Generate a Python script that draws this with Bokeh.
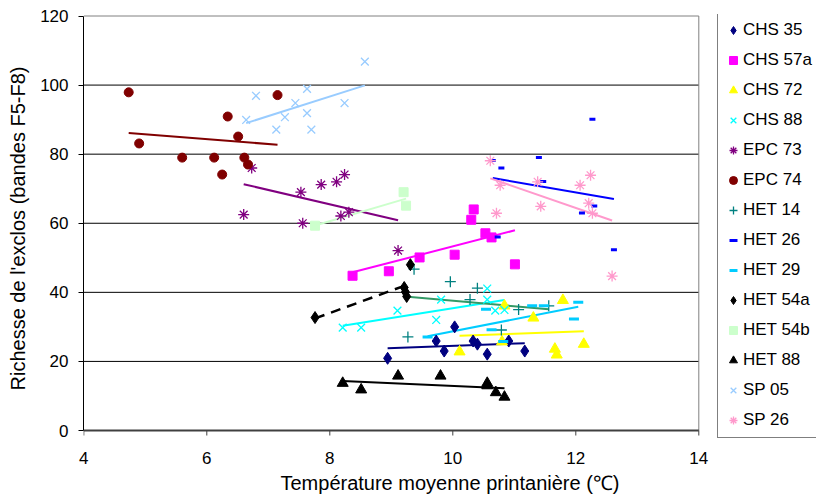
import numpy as np
from bokeh.plotting import figure
from bokeh.models import Legend, LegendItem, FixedTicker, Range1d
from bokeh.embed import file_html
from bokeh.resources import INLINE

# ---------------- data ----------------
series_names = ["CHS 35", "CHS 57a", "CHS 72", "CHS 88", "EPC 73", "EPC 74", "HET 14",
                "HET 26", "HET 29", "HET 54a", "HET 54b", "HET 88", "SP 05", "SP 26"]

chs35_x = [8.94, 9.73, 9.86, 10.03, 10.33, 10.40, 10.56, 10.91, 11.17]
chs35_y = [20.9, 25.9, 23.0, 30.0, 25.9, 25.0, 22.1, 25.9, 23.0]

chs57a_x = [8.37, 8.96, 9.46, 10.03, 10.30, 10.34, 10.53, 10.63, 11.01]
chs57a_y = [44.8, 46.1, 50.1, 50.9, 61.0, 64.0, 57.1, 55.9, 48.1]

chs72_x = [10.11, 10.80, 10.84, 11.31, 11.79, 11.66, 11.69, 12.13]
chs72_y = [22.8, 25.7, 36.1, 32.6, 37.7, 23.6, 21.9, 25.0]

chs88_x = [8.21, 8.51, 9.10, 9.81, 9.73, 10.56, 10.56, 10.69, 10.84]
chs88_y = [29.8, 29.8, 34.7, 37.9, 32.0, 41.1, 37.9, 34.7, 34.9]

epc73_x = [6.60, 6.73, 7.53, 7.86, 8.11, 8.24, 7.56, 8.18, 8.31, 9.11]
epc73_y = [62.5, 76.0, 69.0, 71.2, 72.0, 74.1, 60.0, 62.1, 63.2, 52.1]

epc74_x = [4.73, 4.90, 5.60, 6.12, 6.25, 6.34, 6.51, 6.61, 6.67, 7.15]
epc74_y = [97.9, 83.1, 79.0, 79.0, 74.1, 90.9, 85.1, 79.0, 77.0, 97.1]

het14_x = [9.37, 9.96, 10.40, 10.28, 11.07, 11.56, 9.27, 10.79]
het14_y = [46.7, 43.1, 41.2, 37.9, 35.0, 36.1, 27.1, 29.1]

het26_x = [12.27, 11.40, 10.65, 10.79, 11.47, 12.30, 12.10, 10.73, 12.62]
het26_y = [90.1, 79.0, 78.2, 76.0, 72.1, 65.0, 63.0, 56.0, 52.3]

het29_x = [10.54, 11.29, 11.48, 12.04, 11.97, 10.63, 10.82, 9.59]
het29_y = [35.1, 36.1, 36.1, 37.1, 32.3, 29.2, 25.8, 27.1]

het54a_x = [7.76, 9.21, 9.23, 9.25, 9.31]
het54a_y = [32.7, 41.4, 40.1, 38.8, 48.0]

het54b_x = [7.76, 9.20, 9.24]
het54b_y = [59.3, 69.0, 65.1]

het88_x = [8.21, 8.51, 9.11, 9.80, 10.56, 10.56, 10.70, 10.84]
het88_y = [13.7, 11.8, 15.8, 15.8, 13.7, 13.0, 11.0, 9.7]

sp05_x = [6.64, 6.80, 7.13, 7.27, 7.44, 7.63, 7.63, 7.70, 8.24, 8.57]
sp05_y = [89.9, 96.9, 87.1, 90.7, 94.8, 98.9, 91.9, 87.1, 94.8, 106.8]

sp26_x = [10.61, 10.77, 10.71, 11.38, 11.43, 12.07, 12.24, 12.21, 12.27, 12.59]
sp26_y = [78.1, 71.0, 62.9, 72.0, 64.9, 71.0, 73.9, 65.8, 62.9, 44.7]

x_ticks = [4, 6, 8, 10, 12, 14]
y_ticks = [0, 20, 40, 60, 80, 100, 120]
grid_ticks = [20, 40, 60, 80, 100]
x_min, x_max = 4, 14
y_min, y_max = 0, 120

xs_all = [chs35_x, chs57a_x, chs72_x, chs88_x, epc73_x, epc74_x, het14_x,
          het26_x, het29_x, het54a_x, het54b_x, het88_x, sp05_x, sp26_x]
ys_all = [chs35_y, chs57a_y, chs72_y, chs88_y, epc73_y, epc74_y, het14_y,
          het26_y, het29_y, het54a_y, het54b_y, het88_y, sp05_y, sp26_y]

# ---------------- styles ----------------
styles = {
    "CHS 35":  dict(marker="diamond", color="#000080", size=12, line="#000080"),
    "CHS 57a": dict(marker="square", color="#FF00FF", size=9, line="#FF00FF"),
    "CHS 72":  dict(marker="triangle", color="#FFFF00", size=11, line="#FFFF00"),
    "CHS 88":  dict(marker="x", color="#00FFFF", size=11, line="#00FFFF"),
    "EPC 73":  dict(marker="asterisk", color="#800080", size=11, line="#800080"),
    "EPC 74":  dict(marker="circle", color="#800000", size=9, line="#800000"),
    "HET 14":  dict(marker="cross", color="#008080", size=11, line="#339966"),
    "HET 26":  dict(marker="dash", color="#0000FF", size=6, line="#0000FF"),
    "HET 29":  dict(marker="dash", color="#00CCFF", size=10, line="#00CCFF"),
    "HET 54a": dict(marker="diamond", color="#000000", size=12, line="#000000"),
    "HET 54b": dict(marker="square", color="#CCFFCC", size=9, line="#CCFFCC"),
    "HET 88":  dict(marker="triangle", color="#000000", size=11, line="#000000"),
    "SP 05":   dict(marker="x", color="#99CCFF", size=11, line="#99CCFF"),
    "SP 26":   dict(marker="asterisk", color="#FF99CC", size=11, line="#FF99CC"),
}

FONT = "Liberation Sans"

# ---------------- layout (pixels) ----------------
W, H = 816, 500
LEFT, TOP, BOTTOM = 83, 14, 442          # frame edges on the canvas
AX_LEFT_PX, AX_RIGHT_PX = 83.3, 698.3    # where x=4 and x=14 fall
Y0_PX, Y120_PX = 430.0, 15.5             # where y=0 and y=120 fall
TICK_PX = 5
px_x = (AX_RIGHT_PX - AX_LEFT_PX) / (x_max - x_min)
px_y = (Y0_PX - Y120_PX) / (y_max - y_min)
xr = Range1d(x_min - (AX_LEFT_PX - LEFT) / px_x, x_max + (W - AX_RIGHT_PX) / px_x)
yr = Range1d(y_min - (BOTTOM - Y0_PX) / px_y, y_max + (Y120_PX - TOP) / px_y)

p = figure(width=W, height=H, x_range=xr, y_range=yr,
           output_backend="svg", toolbar_location=None,
           min_border_left=LEFT, min_border_right=0, min_border_top=TOP,
           min_border_bottom=H - BOTTOM)

p.background_fill_color = "white"
p.border_fill_color = "white"
p.outline_line_color = None
p.grid.visible = False

# grid lines and plot-area border limited to the axes' extent
p.segment(x0=[x_min] * len(grid_ticks), x1=[x_max] * len(grid_ticks),
          y0=grid_ticks, y1=grid_ticks, line_color="black", line_width=1)
p.segment(x0=[x_min], x1=[x_max], y0=[y_max], y1=[y_max], line_color="#808080", line_width=1)
p.segment(x0=[x_max], x1=[x_max], y0=[y_min], y1=[y_max], line_color="#808080", line_width=1)

# x axis line and its tick marks at y = 0
p.segment(x0=x_ticks, x1=x_ticks, y0=[y_min] * len(x_ticks),
          y1=[y_min - TICK_PX / px_y] * len(x_ticks), line_color="#404040", line_width=1)
p.segment(x0=[x_min], x1=[x_max], y0=[y_min], y1=[y_min], line_color="#404040", line_width=2)

# main x axis: only labels + title (line and ticks hidden)
p.xaxis.ticker = FixedTicker(ticks=x_ticks)
p.yaxis.ticker = FixedTicker(ticks=y_ticks)
p.xaxis.bounds = (x_min, x_max)
p.yaxis.bounds = (y_min, y_max)
for ax in (p.xaxis, p.yaxis):
    ax.minor_tick_line_color = None
    ax.major_tick_in = 0
    ax.major_tick_out = 5
    ax.major_label_text_font = FONT
    ax.major_label_text_font_size = "17px"
    ax.major_label_text_color = "black"
    ax.axis_label_text_font = FONT
    ax.axis_label_text_font_size = "20px"
    ax.axis_label_text_font_style = "normal"
    ax.axis_label_text_color = "black"
    ax.major_label_standoff = 10
p.xaxis.axis_line_color = None
p.xaxis.major_tick_line_color = None
p.xaxis.major_tick_out = 0
p.xaxis.major_label_standoff = 9
p.xaxis.axis_label = "Température moyenne printanière (℃)"
p.xaxis.axis_label_standoff = 5
p.yaxis.axis_line_color = "black"
p.yaxis.major_tick_line_color = "black"
p.yaxis.axis_label = "Richesse de l'exclos (bandes F5-F8)"
p.yaxis.axis_label_standoff = 8

items = []
for name, xs, ys in zip(series_names, xs_all, ys_all):
    st = styles[name]
    xa = np.array(xs)
    ya = np.array(ys)
    k, b = np.polyfit(xa, ya, 1)
    lx = [xa.min(), xa.max()]
    ly = [k * v + b for v in lx]
    if name == "HET 54a":
        p.line(lx, ly, line_color=st["line"], line_width=2.5, line_dash="10 7")
    else:
        p.line(lx, ly, line_color=st["line"], line_width=2)

for name, xs, ys in zip(series_names, xs_all, ys_all):
    st = styles[name]
    m = st["marker"]
    if m in ("x", "asterisk", "cross"):
        r = p.scatter(xs, ys, marker=m, size=st["size"], line_color=st["color"], line_width=1.3)
    elif m == "dash":
        r = p.scatter(xs, ys, marker=m, size=st["size"], line_color=st["color"], line_width=3)
    else:
        r = p.scatter(xs, ys, marker=m, size=st["size"], fill_color=st["color"],
                      line_color=st["color"], line_width=1)
    items.append(LegendItem(label=name, renderers=[r]))

legend = Legend(items=items, location=(717 - LEFT, 4))
legend.label_text_font = FONT
legend.label_text_font_size = "17px"
legend.label_text_color = "black"
legend.label_height = 24
legend.label_width = 85
legend.glyph_height = 24
legend.glyph_width = 20
legend.spacing = 6
legend.padding = 5
legend.margin = 0
legend.label_standoff = 0
legend.border_line_color = "black"
legend.border_line_width = 1
legend.background_fill_color = "white"
legend.background_fill_alpha = 1
p.add_layout(legend, "center")

open("out.html", "w").write(file_html(p, INLINE))
